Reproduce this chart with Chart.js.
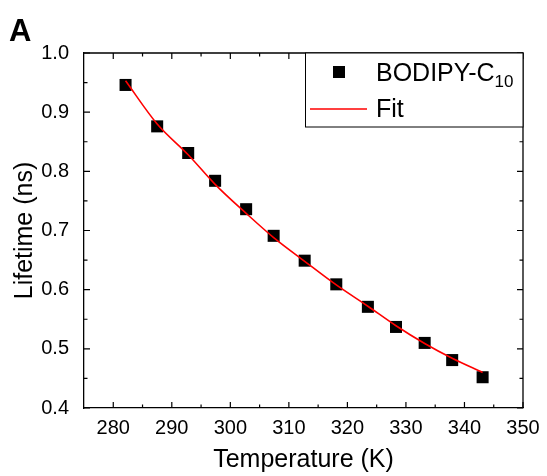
<!DOCTYPE html>
<html>
<head>
<meta charset="utf-8">
<script src="https://cdn.jsdelivr.net/npm/chart.js@4.4.1/dist/chart.umd.min.js"></script>
<style>
  body { margin: 0; background: #fff; }
  canvas { display: block; }
</style>
</head>
<body>
<canvas id="chart" width="547" height="476"></canvas>
<script>
// values
const temperature = [282.1, 287.5, 292.8, 297.4, 302.7, 307.4, 312.7, 318.1, 323.5, 328.3, 333.2, 337.9, 343.1];
const lifetime = [0.946, 0.876, 0.831, 0.784, 0.736, 0.691, 0.649, 0.609, 0.571, 0.537, 0.510, 0.481, 0.452];
const fitLifetime = [0.953, 0.880, 0.828, 0.778, 0.729, 0.688, 0.648, 0.608, 0.572, 0.539, 0.509, 0.484, 0.460];

const xTicks = [280, 290, 300, 310, 320, 330, 340, 350];
const yTicks = [0.4, 0.5, 0.6, 0.7, 0.8, 0.9, 1.0];

const FONT = "'Liberation Sans', Arial, sans-serif";

// inward tick marks on all four sides, the top/right frame, panel letter and legend
const framePlugin = {
    id: 'frame',
    afterDraw(chart) {
        const ctx = chart.ctx;
        const a = chart.chartArea;
        const xs = chart.scales.x, ys = chart.scales.y;
        ctx.save();
        ctx.strokeStyle = '#000';
        ctx.lineWidth = 1.3;
        ctx.beginPath();
        ctx.moveTo(a.left, a.top);
        ctx.lineTo(a.right, a.top);
        ctx.lineTo(a.right, a.bottom);
        ctx.stroke();

        ctx.lineWidth = 1.2;
        ctx.beginPath();
        for (let v = 280; v <= 350; v += 5) {
            const px = xs.getPixelForValue(v);
            const len = v % 10 === 0 ? 6 : 3.5;
            ctx.moveTo(px, a.bottom); ctx.lineTo(px, a.bottom - len);
            ctx.moveTo(px, a.top); ctx.lineTo(px, a.top + len);
        }
        for (let i = 0; i <= 12; i++) {
            const v = 0.4 + i * 0.05;
            const py = ys.getPixelForValue(v);
            const len = i % 2 === 0 ? 6 : 3.5;
            ctx.moveTo(a.left, py); ctx.lineTo(a.left + len, py);
            ctx.moveTo(a.right, py); ctx.lineTo(a.right - len, py);
        }
        ctx.stroke();

        // panel letter
        ctx.fillStyle = '#000';
        ctx.font = 'bold 31px ' + FONT;
        ctx.textBaseline = 'alphabetic';
        ctx.textAlign = 'left';
        ctx.fillText('A', 9, 41);

        // legend box
        const bx = 305, by = a.top, bw = a.right - 305, bh = 74;
        ctx.fillStyle = '#fff';
        ctx.fillRect(bx, by, bw, bh);
        ctx.lineWidth = 1;
        ctx.strokeRect(bx + 0.5, by, bw - 0.5, bh);

        ctx.fillStyle = '#000';
        ctx.fillRect(339 - 6, 72 - 6, 12, 12);
        ctx.strokeStyle = '#ff0000';
        ctx.lineWidth = 1.6;
        ctx.beginPath();
        ctx.moveTo(310, 109); ctx.lineTo(367, 109);
        ctx.stroke();

        ctx.fillStyle = '#000';
        ctx.font = '25px ' + FONT;
        ctx.textBaseline = 'middle';
        ctx.fillText('BODIPY-C', 376, 74);
        const w = ctx.measureText('BODIPY-C').width;
        ctx.font = '17px ' + FONT;
        ctx.fillText('10', 376 + w, 82);
        ctx.font = '25px ' + FONT;
        ctx.fillText('Fit', 376, 110);
        ctx.restore();
    }
};

const ctx = document.getElementById('chart').getContext('2d');
new Chart(ctx, {
    type: 'scatter',
    data: {
        datasets: [{
            label: 'Fit',
            data: temperature.map((t, i) => ({x: t, y: fitLifetime[i]})),
            showLine: true,
            borderColor: '#ff0000',
            borderWidth: 1.6,
            pointRadius: 0,
            tension: 0.4,
            cubicInterpolationMode: 'monotone',
            order: 0
        }, {
            label: 'BODIPY-C10',
            data: temperature.map((t, i) => ({x: t, y: lifetime[i]})),
            pointStyle: 'rect',
            pointRadius: 8.5,
            pointHoverRadius: 8.5,
            backgroundColor: '#000',
            borderColor: '#000',
            borderWidth: 0,
            order: 1
        }]
    },
    options: {
        responsive: false,
        animation: false,
        layout: { padding: { left: 0, top: 53, right: 24, bottom: 0 } },
        plugins: {
            legend: { display: false },
            tooltip: { enabled: false }
        },
        scales: {
            x: {
                type: 'linear',
                min: 275,
                max: 350,
                afterBuildTicks: (scale) => { scale.ticks = xTicks.map(v => ({value: v})); },
                afterFit: (scale) => { scale.height = 68; },
                grid: { display: false },
                border: { display: true, color: '#000', width: 1.3 },
                ticks: {
                    color: '#000',
                    font: { family: FONT, size: 20 },
                    padding: 0,
                    maxRotation: 0,
                    autoSkip: false
                },
                title: {
                    display: true,
                    text: 'Temperature (K)',
                    color: '#000',
                    font: { family: FONT, size: 25 },
                    padding: { top: 0, bottom: 1 }
                }
            },
            y: {
                type: 'linear',
                min: 0.4,
                max: 1.0,
                afterBuildTicks: (scale) => { scale.ticks = yTicks.map(v => ({value: v})); },
                afterFit: (scale) => { scale.width = 84; },
                grid: { display: false },
                border: { display: true, color: '#000', width: 1.3 },
                ticks: {
                    color: '#000',
                    font: { family: FONT, size: 20 },
                    padding: 7,
                    callback: (v) => Number(v).toFixed(1)
                },
                title: {
                    display: true,
                    text: 'Lifetime (ns)',
                    color: '#000',
                    font: { family: FONT, size: 25 },
                    padding: { top: 10, bottom: 4 }
                }
            }
        }
    },
    plugins: [framePlugin]
});
</script>
</body>
</html>
